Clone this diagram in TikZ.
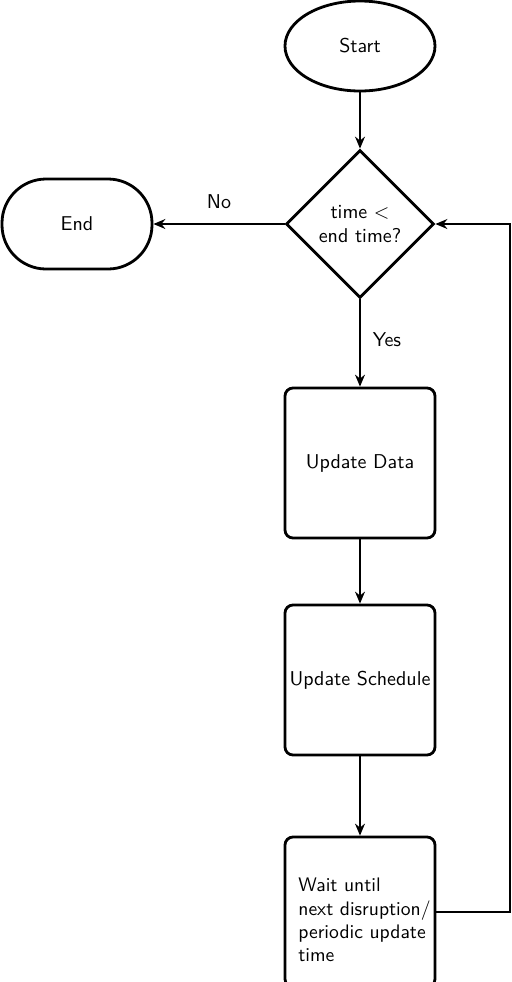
\documentclass[tikz,border=0pt]{standalone}
\usetikzlibrary{shapes.geometric,arrows.meta}
\begin{document}
\begin{tikzpicture}[x=0.5pt,y=-0.5pt,font=\sffamily,
  shp/.style={draw,line width=1.4pt,inner sep=0pt,align=center},
  proc/.style={shp,rectangle,rounded corners=4pt,minimum width=75pt,minimum height=75pt},
  conn/.style={line width=0.7pt,-{Stealth[length=6pt,width=5pt]}}]
\useasboundingbox (0,0) rectangle (511,982);
\node[shp,ellipse,minimum width=75pt,minimum height=45pt] (start) at (360,46) {Start};
\node[shp,diamond,minimum width=74pt,minimum height=74pt,aspect=1] (dec) at (360,224) {time $<$\\end time?};
\node[shp,rectangle,rounded corners=22pt,minimum width=75pt,minimum height=45pt] (end) at (77,224) {End};
\node[proc] (data) at (360,463) {Update Data};
\node[proc] (sched) at (360,680) {Update Schedule};
\node[proc] (wait) at (360,912) {};
\node[align=left,inner sep=0pt,anchor=west,font=\sffamily\fontsize{9.8}{11.6}\selectfont] (waittxt) at (298,920) {Wait until\\next disruption/\\periodic update\\time};
\coordinate (c1) at (510,912);
\coordinate (c2) at (510,224);
\draw[conn] (start) -- (dec);
\draw[conn] (dec) -- node[pos=0.5,yshift=11pt] (no) {No} (end);
\draw[conn] (dec) -- node[pos=0.5,xshift=13.5pt,yshift=1.5pt] (yes) {Yes} (data);
\draw[conn] (data) -- (sched);
\draw[conn] (sched) -- (wait);
\draw[conn] (wait.east) -- (c1) -- (c2) -- (dec.east);
\end{tikzpicture}
\end{document}
